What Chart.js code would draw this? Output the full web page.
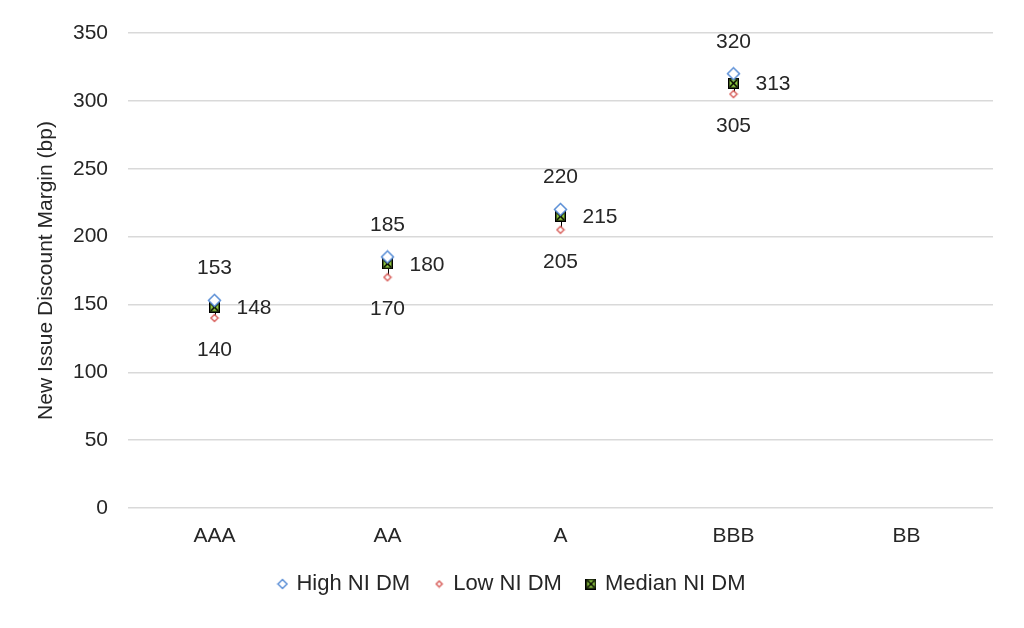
<!DOCTYPE html>
<html>
<head>
<meta charset="utf-8">
<script src="https://cdn.jsdelivr.net/npm/chart.js@4.4.1/dist/chart.umd.min.js"></script>
<style>
  html, body { margin: 0; padding: 0; background: #ffffff; }
  #wrap { width: 1024px; height: 628px; }
</style>
</head>
<body>
<div id="wrap"><canvas id="grafico"></canvas></div>
<script>
// datos
const ratings = ['AAA', 'AA', 'A', 'BBB', 'BB'];
const highDM = [153, 185, 220, 320, null];
const lowDM = [140, 170, 205, 305, null];
const medianDM = [148, 180, 215, 313, null];
const yTicks = [0, 50, 100, 150, 200, 250, 300, 350];

const FONT = '"Liberation Sans", Arial, sans-serif';
const TXT = '#262626';

// marcadores dibujados en canvas
function diamond(size, color, lw) {
    const c = document.createElement('canvas');
    c.width = size; c.height = size;
    const g = c.getContext('2d');
    const h = size / 2, m = lw;
    g.strokeStyle = color;
    g.lineWidth = lw;
    g.fillStyle = '#ffffff';
    g.beginPath();
    g.moveTo(h, m); g.lineTo(size - m, h); g.lineTo(h, size - m); g.lineTo(m, h);
    g.closePath();
    g.fill();
    g.stroke();
    return c;
}
function medianBox(size) {
    const c = document.createElement('canvas');
    c.width = size; c.height = size;
    const g = c.getContext('2d');
    g.fillStyle = '#8dc63f';
    g.fillRect(0, 0, size, size);
    g.strokeStyle = '#000000';
    g.lineWidth = 1.5;
    g.strokeRect(0.75, 0.75, size - 1.5, size - 1.5);
    g.beginPath();
    g.moveTo(2, 2); g.lineTo(size - 2, size - 2);
    g.moveTo(size - 2, 2); g.lineTo(2, size - 2);
    g.stroke();
    return c;
}

const highImg = diamond(15, '#5b8fd6', 1.5);
const lowImg = diamond(10, '#d9625e', 1.5);
const medImg = medianBox(11);
const highLeg = diamond(12, '#5b8fd6', 1.5);
const lowLeg = diamond(9, '#d9625e', 1.5);
const medLeg = medianBox(11);

// lineas alto-bajo
const hiLoLines = {
    id: 'hiLoLines',
    beforeDatasetsDraw(chart) {
        const ctx = chart.ctx;
        const hi = chart.getDatasetMeta(0).data;
        const lo = chart.getDatasetMeta(1).data;
        ctx.save();
        ctx.strokeStyle = '#000000';
        ctx.lineWidth = 1;
        hi.forEach((p, i) => {
            if (highDM[i] == null || lowDM[i] == null) return;
            ctx.beginPath();
            ctx.moveTo(Math.round(p.x) + 0.5, p.y);
            ctx.lineTo(Math.round(lo[i].x) + 0.5, lo[i].y);
            ctx.stroke();
        });
        ctx.restore();
    }
};

// etiquetas de datos
const dataLabels = {
    id: 'dataLabels',
    afterDatasetsDraw(chart) {
        const ctx = chart.ctx;
        ctx.save();
        ctx.font = '21px ' + FONT;
        ctx.fillStyle = TXT;
        chart.data.datasets.forEach((ds, di) => {
            chart.getDatasetMeta(di).data.forEach((p, i) => {
                const v = ds.data[i];
                if (v == null) return;
                if (di === 0) {
                    ctx.textAlign = 'center'; ctx.textBaseline = 'middle';
                    ctx.fillText(v, p.x, p.y - 32);
                } else if (di === 1) {
                    ctx.textAlign = 'center'; ctx.textBaseline = 'middle';
                    ctx.fillText(v, p.x, p.y + 32);
                } else {
                    ctx.textAlign = 'left'; ctx.textBaseline = 'middle';
                    ctx.fillText(v, p.x + 22, p.y + 1);
                }
            });
        });
        ctx.restore();
    }
};

const legendImgs = [highLeg, lowLeg, medLeg];

new Chart(document.getElementById('grafico'), {
    type: 'line',
    data: {
        labels: ratings,
        datasets: [
            { label: 'High NI DM', data: highDM, showLine: false, pointStyle: highImg, pointRadius: 7 },
            { label: 'Low NI DM', data: lowDM, showLine: false, pointStyle: lowImg, pointRadius: 5 },
            { label: 'Median NI DM', data: medianDM, showLine: false, pointStyle: medImg, pointRadius: 6 }
        ]
    },
    options: {
        responsive: true,
        maintainAspectRatio: false,
        animation: false,
        layout: { padding: { left: 32, right: 31, top: 33, bottom: 23 } },
        scales: {
            x: {
                offset: true,
                grid: { display: false },
                border: { display: false },
                ticks: { color: TXT, font: { family: FONT, size: 21 }, padding: 8 },
                afterFit(scale) { scale.height = 39; }
            },
            y: {
                min: 0,
                max: 350,
                afterBuildTicks(scale) { scale.ticks = yTicks.map(v => ({ value: v })); },
                grid: { color: '#d9d9d9', lineWidth: 1.5, drawTicks: false },
                border: { display: false },
                ticks: { color: TXT, font: { family: FONT, size: 21 }, padding: 20 },
                title: { display: true, text: 'New Issue Discount Margin (bp)', color: TXT, font: { family: FONT, size: 21 }, padding: { top: 2, bottom: 0 } },
                afterFit(scale) { scale.width = 96; }
            }
        },
        plugins: {
            legend: {
                position: 'bottom',
                labels: {
                    usePointStyle: true,
                    pointStyleWidth: 6,
                    color: TXT,
                    font: { family: FONT, size: 22 },
                    padding: 26,
                    generateLabels(chart) {
                        return chart.data.datasets.map((ds, i) => ({
                            text: ds.label,
                            pointStyle: legendImgs[i],
                            fillStyle: '#ffffff',
                            strokeStyle: '#ffffff',
                            lineWidth: 0,
                            fontColor: TXT,
                            datasetIndex: i,
                            hidden: false
                        }));
                    }
                }
            },
            tooltip: { enabled: false }
        }
    },
    plugins: [hiLoLines, dataLabels]
});
</script>
</body>
</html>
